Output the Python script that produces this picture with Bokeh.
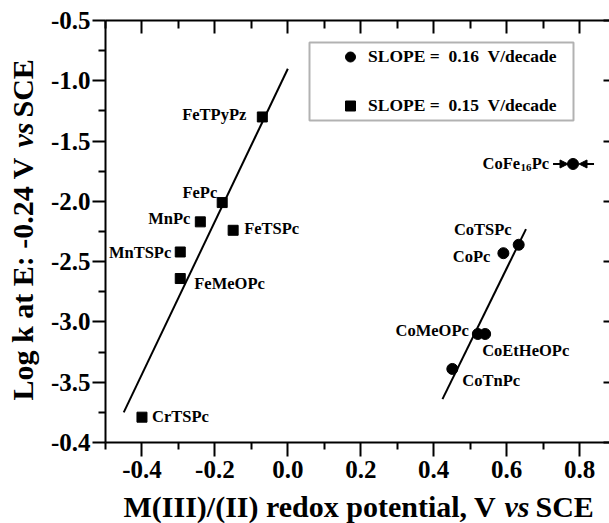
from math import pi
from bokeh.plotting import figure
from bokeh.layouts import row, column
from bokeh.models import (Range1d, LinearAxis, FixedTicker, PrintfTickFormatter, ColumnDataSource,
                          BoxAnnotation, Legend, LegendItem, Arrow, NormalHead)
from bokeh.core.properties import value
from bokeh.embed import file_html
from bokeh.resources import INLINE

# ---------------- data ----------------
fe_names = ["FeTPyPz", "FePc", "MnPc", "FeTSPc", "MnTSPc", "FeMeOPc", "CrTSPc"]
fe_x = [-0.07, -0.18, -0.24, -0.15, -0.295, -0.295, -0.40]
fe_y = [-1.30, -2.01, -2.17, -2.24, -2.42, -2.64, -3.79]

co_names = ["CoTSPc", "CoPc", "CoMeOPc", "CoEtHeOPc", "CoTnPc"]
co_x = [0.633, 0.591, 0.521, 0.541, 0.451]
co_y = [-2.36, -2.43, -3.10, -3.10, -3.39]

cofe_x = [0.782]
cofe_y = [-1.69]

fe_fit_x = [-0.45, 0.0]
fe_fit_y = [-3.75, -0.90]
co_fit_x = [0.424, 0.653]
co_fit_y = [-3.64, -2.23]

x_major = [-0.4, -0.2, 0.0, 0.2, 0.4, 0.6, 0.8]
x_minor = [-0.5, -0.3, -0.1, 0.1, 0.3, 0.5, 0.7]
y_major = [-0.5, -1.0, -1.5, -2.0, -2.5, -3.0, -3.5, -4.0]
y_minor = [-0.75, -1.25, -1.75, -2.25, -2.75, -3.25, -3.75]
y_label_override = {-4.0: "-0.4"}

legend_labels = ["SLOPE =\u00a0 0.16\u00a0 V/decade", "SLOPE =\u00a0 0.15\u00a0 V/decade"]

x_title = [("M(III)/(II) redox potential, V", "bold"), ("vs", "bold italic"), ("SCE", "bold")]
y_title = [("Log k at E: -0.24 V", "bold"), ("vs", "bold italic"), ("SCE", "bold")]

# ---------------- layout / style ----------------
W, H = 609, 523
YLAB_W = 40          # strip holding the y-axis title
XLAB_H = 35          # strip holding the x-axis title
MAIN_W, MAIN_H = W - YLAB_W, H - XLAB_H
FL, FR, FT, FB = 105, 609, 20, 442      # frame edges in page pixels
X0, X1, Y0, Y1 = -0.5, 0.882, -4.0, -0.5
FONT = "Liberation Serif"
px_per_x = (FR - FL) / (X1 - X0)

# page-pixel positions of the title pieces
x_title_pos = [123, 504, 535]
x_title_cy = 506
x_title_size = "30px"
y_title_pos = [400, 147, 117]
y_title_cx = 22
y_title_size = "30px"

# label placement: (align, dx px, dy px down)
label_pos = {
    "FeTPyPz": ("right", -16, -2),
    "FePc": ("right", -5, -10),
    "MnPc": ("right", -10, -3),
    "FeTSPc": ("left", 11, -2),
    "MnTSPc": ("right", -9, 1),
    "FeMeOPc": ("left", 14, 5),
    "CrTSPc": ("left", 10, -1),
    "CoTSPc": ("right", -7, -15),
    "CoPc": ("right", -13, 3),
    "CoMeOPc": ("right", -9, -3),
    "CoEtHeOPc": ("left", -3, 17),
    "CoTnPc": ("left", 10, 12),
}

p = figure(width=MAIN_W, height=MAIN_H, x_range=Range1d(X0, X1), y_range=Range1d(Y0, Y1),
           output_backend="svg", toolbar_location=None,
           min_border_left=FL - YLAB_W, min_border_right=W - FR, min_border_top=FT,
           min_border_bottom=MAIN_H - FB,
           outline_line_color=None, background_fill_color="white", border_fill_color="white")
p.xgrid.visible = False
p.ygrid.visible = False


def style_axis(ax):
    ax.axis_line_width = 2
    ax.axis_line_color = "black"
    ax.major_tick_line_width = 2
    ax.minor_tick_line_width = 2
    ax.major_tick_line_color = "black"
    ax.minor_tick_line_color = "black"
    ax.major_label_text_font = FONT
    ax.major_label_text_font_style = "bold"
    ax.major_label_text_font_size = "25px"
    ax.major_label_text_color = "black"


xa = p.xaxis[0]
xa.ticker = FixedTicker(ticks=x_major, minor_ticks=x_minor)
xa.formatter = PrintfTickFormatter(format="%.1f")
style_axis(xa)
xa.major_tick_out = 14
xa.major_tick_in = 0
xa.minor_tick_out = 7
xa.minor_tick_in = 0
xa.major_label_standoff = 4

ya = p.yaxis[0]
ya.ticker = FixedTicker(ticks=y_major, minor_ticks=y_minor)
ya.formatter = PrintfTickFormatter(format="%.1f")
ya.major_label_overrides = y_label_override
style_axis(ya)
ya.major_tick_out = 13
ya.major_tick_in = 0
ya.minor_tick_out = 7
ya.minor_tick_in = 0
ya.major_label_standoff = 2

top = LinearAxis(ticker=FixedTicker(ticks=x_major, minor_ticks=x_minor))
style_axis(top)
top.major_label_text_font_size = "1px"
top.major_label_text_color = None
top.major_label_standoff = 0
top.major_tick_in = 13
top.major_tick_out = 0
top.minor_tick_in = 8
top.minor_tick_out = 0
p.add_layout(top, "above")

right = LinearAxis(ticker=FixedTicker(ticks=y_major, minor_ticks=[]))
style_axis(right)
right.axis_line_color = None
right.major_label_text_font_size = "1px"
right.major_label_text_color = None
right.major_label_standoff = 0
right.major_tick_in = 6
right.major_tick_out = 0
right.minor_tick_in = 0
right.minor_tick_out = 0
p.add_layout(right, "right")

# fit lines
p.line(fe_fit_x, fe_fit_y, line_width=2, line_color="black")
p.line(co_fit_x, co_fit_y, line_width=2, line_color="black")

# points
fe_r = p.scatter(fe_x, fe_y, marker="square", size=10, color="black")
co_r = p.scatter(co_x, co_y, marker="circle", size=11, color="black")
p.scatter(cofe_x, cofe_y, marker="circle", size=11, color="black")

# point labels
all_names = fe_names + co_names
all_x = fe_x + co_x
all_y = fe_y + co_y
for align in ("left", "right"):
    idx = [i for i, n in enumerate(all_names) if label_pos[n][0] == align]
    src = ColumnDataSource(dict(
        x=[all_x[i] for i in idx], y=[all_y[i] for i in idx], t=[all_names[i] for i in idx],
        dx=[label_pos[all_names[i]][1] for i in idx], dy=[label_pos[all_names[i]][2] for i in idx]))
    p.text(x="x", y="y", text="t", x_offset="dx", y_offset="dy", source=src,
           text_align=align, text_baseline="middle", text_font=value(FONT),
           text_font_style="bold", text_font_size="16.5px", text_color="black")

# CoFe16Pc label with subscript
cofe_parts = [("Pc", -24, 0, "16.5px"), ("16", -41.5, 4, "11px"), ("CoFe", -53, 0, "16.5px")]
for t, ox, oy, fs in cofe_parts:
    p.text(x=cofe_x, y=cofe_y, text=[t], x_offset=ox, y_offset=oy, text_align="right",
           text_baseline="middle", text_font=value(FONT), text_font_style="bold",
           text_font_size=fs, text_color="black")

# arrows pointing at CoFe16Pc
p.add_layout(Arrow(end=NormalHead(size=8, fill_color="black", line_color="black"),
                   x_start=cofe_x[0] - 20 / px_per_x, y_start=cofe_y[0],
                   x_end=cofe_x[0] - 5 / px_per_x, y_end=cofe_y[0],
                   line_width=2, line_color="black"))
p.add_layout(Arrow(end=NormalHead(size=8, fill_color="black", line_color="black"),
                   x_start=cofe_x[0] + 21 / px_per_x, y_start=cofe_y[0],
                   x_end=cofe_x[0] + 6 / px_per_x, y_end=cofe_y[0],
                   line_width=2, line_color="black"))


# legend box + legend (screen units relative to frame bottom-left)
def sx(cx):
    return cx - FL


def sy(cy):
    return FB - cy


p.add_layout(BoxAnnotation(left=sx(309), right=sx(573), top=sy(42), bottom=sy(120),
                           left_units="screen", right_units="screen", top_units="screen",
                           bottom_units="screen", fill_color=None, line_color="black", line_width=2))
legend = Legend(items=[LegendItem(label=legend_labels[0], renderers=[co_r]),
                       LegendItem(label=legend_labels[1], renderers=[fe_r])],
                location=(sx(332), sy(44.5 + 73)), glyph_width=36, glyph_height=25,
                label_height=25, label_width=10, spacing=24, padding=0, margin=0,
                label_standoff=0, border_line_alpha=0, background_fill_alpha=0,
                label_text_font=FONT, label_text_font_style="bold", label_text_font_size="17.5px",
                label_text_color="black")
p.add_layout(legend)


# ---------------- title strips (data units == page pixels) ----------------
def strip(w, h, xr, yr, **borders):
    f = figure(width=w, height=h, x_range=xr, y_range=yr, title=None,
               x_axis_type=None, y_axis_type=None,
               output_backend="svg", toolbar_location=None, min_border=0,
               outline_line_color=None, background_fill_color="white",
               border_fill_color="white", **borders)
    f.grid.visible = False
    return f


# y strip shares the main frame's vertical extent; its y data equal page y (flipped)
yl = strip(YLAB_W, MAIN_H, Range1d(0, YLAB_W), Range1d(FB, FT),
           min_border_top=FT, min_border_bottom=MAIN_H - FB)
for (t, style), cy in zip(y_title, y_title_pos):
    yl.text(x=[y_title_cx], y=[cy], text=[t], angle=pi / 2, text_align="left",
            text_baseline="middle", text_font=value(FONT), text_font_style=style,
            text_font_size=y_title_size, text_color="black")

xl = strip(W, XLAB_H, Range1d(0, W), Range1d(H, H - XLAB_H))
for (t, style), cx in zip(x_title, x_title_pos):
    xl.text(x=[cx], y=[x_title_cy], text=[t], text_align="left",
            text_baseline="middle", text_font=value(FONT), text_font_style=style,
            text_font_size=x_title_size, text_color="black")

layout = column(row(yl, p, spacing=0), xl, spacing=0)

open("out.html", "w").write(file_html(layout, INLINE))
